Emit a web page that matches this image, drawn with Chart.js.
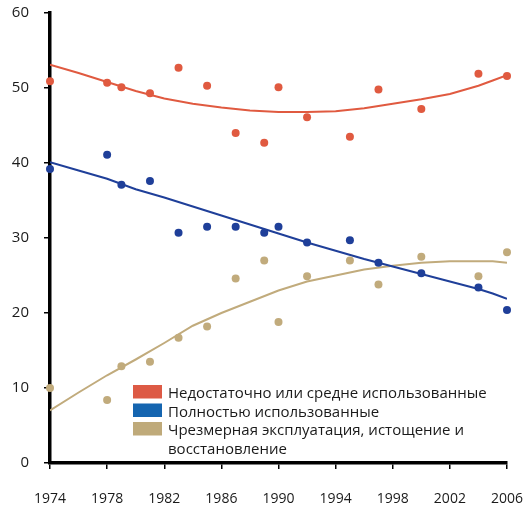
<!DOCTYPE html>
<html lang="ru">
<head>
<meta charset="utf-8">
<script src="https://cdn.jsdelivr.net/npm/chart.js@4/dist/chart.umd.min.js"></script>
<style>
  html, body { margin: 0; padding: 0; background: #ffffff; }
  #wrap { width: 528px; height: 506px; }
</style>
</head>
<body>
<div id="wrap"><canvas id="chart" width="528" height="506"></canvas></div>
<script>
// Survey years with observed shares of stocks (%)
const years = [1974, 1978, 1979, 1981, 1983, 1985, 1987, 1989, 1990, 1992, 1995, 1997, 2000, 2004, 2006];
const underUsed = [50.9, 50.7, 50.1, 49.3, 52.7, 50.3, 44.0, 42.7, 50.1, 46.1, 43.5, 49.8, 47.2, 51.9, 51.6];
const fullyUsed = [39.2, 41.1, 37.1, 37.6, 30.7, 31.5, 31.5, 30.7, 31.5, 29.4, 29.7, 26.7, 25.3, 23.4, 20.4];
const overUsed  = [10.0, 8.4, 12.9, 13.5, 16.7, 18.2, 24.6, 27.0, 18.8, 24.9, 27.0, 23.8, 27.5, 24.9, 28.1];

// Trend curves
const trendYears = [1974, 1976, 1978, 1980, 1982, 1984, 1986, 1988, 1990, 1992, 1994, 1996, 1998, 2000, 2002, 2004, 2005, 2006];
const underTrend = [53.1, 52.0, 50.8, 49.6, 48.6, 47.9, 47.4, 47.0, 46.8, 46.8, 46.9, 47.3, 47.9, 48.5, 49.2, 50.3, 51.0, 51.7];
const fullTrend  = [40.1, 39.0, 37.9, 36.5, 35.4, 34.2, 33.0, 31.8, 30.6, 29.4, 28.3, 27.2, 26.2, 25.2, 24.2, 23.2, 22.6, 21.9];
const overTrend  = [7.0, 9.4, 11.7, 13.8, 16.0, 18.3, 20.0, 21.5, 23.0, 24.2, 25.0, 25.8, 26.3, 26.7, 26.9, 26.9, 26.9, 26.7];

// Axis ticks
const xTicks = [1974, 1978, 1982, 1986, 1990, 1994, 1998, 2002, 2006];
const yTicks = [0, 10, 20, 30, 40, 50, 60];

// Legend entries (text lines per entry)
const legendLabels = [
  ['Недостаточно или средне использованные'],
  ['Полностью использованные'],
  ['Чрезмерная эксплуатация, истощение и', 'восстановление']
];

const RED = '#e05a40';
const BLUE = '#1f3f99';
const TAN = '#c1ab7c';
const legendColors = ['#dd5a45', '#1565b0', '#bfaa7a'];
const FONT = '"Open Sans", "DejaVu Sans", sans-serif';

const pts = (xs, ys) => xs.map((x, i) => ({ x: x, y: ys[i] }));

function pointSet(label, data, color) {
  return {
    label: label,
    data: pts(years, data),
    showLine: false,
    pointRadius: 4,
    pointHoverRadius: 4,
    pointBorderWidth: 0,
    backgroundColor: color,
    borderColor: color,
    clip: false,
    order: 0
  };
}
function trendSet(data, color) {
  return {
    data: pts(trendYears, data),
    showLine: true,
    pointRadius: 0,
    borderWidth: 2,
    borderColor: color,
    backgroundColor: color,
    fill: false,
    tension: 0,
    order: 1
  };
}

// Legend drawn inside the plot area
const insideLegend = {
  id: 'insideLegend',
  afterDraw(chart) {
    const ctx = chart.ctx;
    ctx.save();
    ctx.font = '15px ' + FONT;
    ctx.textBaseline = 'alphabetic';
    ctx.textAlign = 'left';
    const boxX = 133, boxW = 29, boxH = 13.5, textX = 168, lineH = 18.5;
    let base = 398;
    legendLabels.forEach((lines, i) => {
      ctx.fillStyle = legendColors[i];
      ctx.fillRect(boxX, base - 13, boxW, boxH);
      ctx.fillStyle = '#1a1a1a';
      lines.forEach((t, j) => ctx.fillText(t, textX, base + j * lineH));
      base += lines.length * lineH;
    });
    ctx.restore();
  }
};

new Chart(document.getElementById('chart'), {
  type: 'scatter',
  data: {
    datasets: [
      trendSet(underTrend, RED),
      trendSet(fullTrend, BLUE),
      trendSet(overTrend, TAN),
      pointSet(legendLabels[0].join(' '), underUsed, RED),
      pointSet(legendLabels[1].join(' '), fullyUsed, BLUE),
      pointSet(legendLabels[2].join(' '), overUsed, TAN)
    ]
  },
  options: {
    responsive: false,
    animation: false,
    devicePixelRatio: 1,
    layout: { autoPadding: false, padding: { top: 13, right: 21, left: 0, bottom: 0 } },
    plugins: { legend: { display: false }, tooltip: { enabled: false } },
    scales: {
      x: {
        type: 'linear',
        min: xTicks[0],
        max: xTicks[xTicks.length - 1],
        afterBuildTicks: s => { s.ticks = xTicks.map(v => ({ value: v })); },
        afterFit: s => { s.height = 43; s.paddingLeft = 0; s.paddingRight = 0; },
        grid: { drawOnChartArea: false, drawTicks: true, tickLength: 6, color: '#000', lineWidth: 1.5 },
        border: { display: true, color: '#000', width: 3.5 },
        ticks: {
          font: { family: FONT, size: 14 },
          color: '#1a1a1a',
          padding: 22,
          maxRotation: 0,
          callback: v => String(v)
        }
      },
      y: {
        min: yTicks[0],
        max: yTicks[yTicks.length - 1],
        afterBuildTicks: s => { s.ticks = yTicks.map(v => ({ value: v })); },
        afterFit: s => { s.width = 50; s.paddingTop = 0; s.paddingBottom = 0; },
        grid: { drawOnChartArea: false, drawTicks: true, tickLength: 6, color: '#000', lineWidth: 1.5 },
        border: { display: true, color: '#000', width: 3.5 },
        ticks: {
          font: { family: FONT, size: 15 },
          color: '#1a1a1a',
          padding: 15,
          callback: v => String(v)
        }
      }
    }
  },
  plugins: [insideLegend]
});
</script>
</body>
</html>
